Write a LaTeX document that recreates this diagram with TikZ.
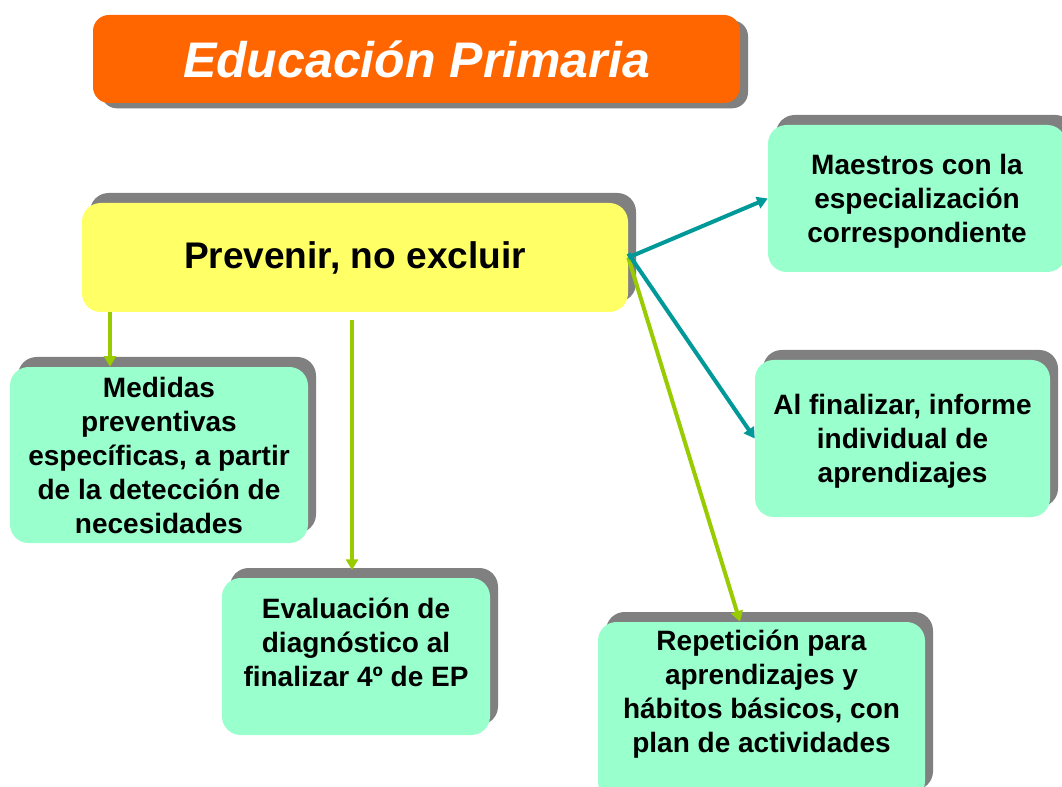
\documentclass[tikz,border=0pt]{standalone}
\usepackage{fontspec}
\setmainfont{Liberation Sans}
\usetikzlibrary{arrows.meta,shadows}

\definecolor{titleorange}{HTML}{FF6600}
\definecolor{ideayellow}{HTML}{FFFF66}
\definecolor{measuregreen}{HTML}{99FFCC}
\definecolor{shadowgray}{HTML}{808080}
\definecolor{linklime}{HTML}{99CC00}
\definecolor{linkteal}{HTML}{009999}

\tikzset{
  upshadow/.style={drop shadow={shadow xshift=6pt,shadow yshift=7.5pt,fill=shadowgray,opacity=1}},
  downshadow/.style={drop shadow={shadow xshift=6pt,shadow yshift=-4pt,fill=shadowgray,opacity=1}},
  measurebox/.style={rectangle,rounded corners=14pt,fill=measuregreen,upshadow,align=center,
    font=\fontsize{21}{25.5}\selectfont\bfseries},
  limelink/.style={draw=linklime,line width=3pt,-{Triangle[length=8pt,width=9pt]}},
  teallink/.style={draw=linkteal,line width=3pt,-{Triangle[length=8pt,width=9pt]}}
}

\begin{document}
\begin{tikzpicture}[x=0.75pt,y=0.75pt,yscale=-1,xscale=1]
\useasboundingbox (0,0) rectangle (1062,787);
\fill[white] (0,0) rectangle (1062,787);

%Shape: Rounded Rect (title)
\node[rectangle,rounded corners=12pt,fill=titleorange,downshadow,
  minimum width=485.25pt,minimum height=66pt,text=white,
  font=\fontsize{37.5}{44}\selectfont\bfseries\itshape] (titulo) at (416.5,59) {Educación Primaria};

%Shape: Rounded Rect (main idea)
\node[rectangle,rounded corners=14pt,fill=ideayellow,upshadow,
  minimum width=409.5pt,minimum height=81.75pt,
  font=\fontsize{27.8}{33}\selectfont\bfseries] (prevenir) at (355,257.5) {Prevenir, no excluir};

%Shape: Rounded Rect (measures)
\node[measurebox,minimum width=223.5pt,minimum height=132pt] (medidas) at (159,455)
  {Medidas\\preventivas\\específicas, a partir\\de la detección de\\necesidades};
\node[measurebox,minimum width=201pt,minimum height=117.75pt,text depth=21pt] (evaluacion) at (356,656.5)
  {Evaluación de\\diagnóstico al\\finalizar 4º de EP};
\node[measurebox,minimum width=245.25pt,minimum height=133.5pt,text depth=30pt] (repeticion) at (761.5,711)
  {Repetición para\\aprendizajes y\\hábitos básicos, con\\plan de actividades};
\node[measurebox,minimum width=223.5pt,minimum height=110.25pt,text depth=0pt] (maestros) at (917,198.5)
  {Maestros con la\\especialización\\correspondiente};
\node[measurebox,minimum width=221.25pt,minimum height=117.75pt,text depth=0pt] (informe) at (902.5,438.5)
  {Al finalizar, informe\\individual de\\aprendizajes};

%Straight Lines with arrows
\draw[limelink] (110,0 |- prevenir.south) -- (110,0 |- medidas.north);
\draw[limelink,shorten <=6pt] (352,0 |- prevenir.south) -- (352,570);
\draw[limelink] (prevenir.east) -- (740,0 |- repeticion.north);
\draw[teallink] (prevenir.east) -- (maestros.west);
\draw[teallink] ([yshift=-3pt]prevenir.east) -- (informe.west);
\end{tikzpicture}
\end{document}
